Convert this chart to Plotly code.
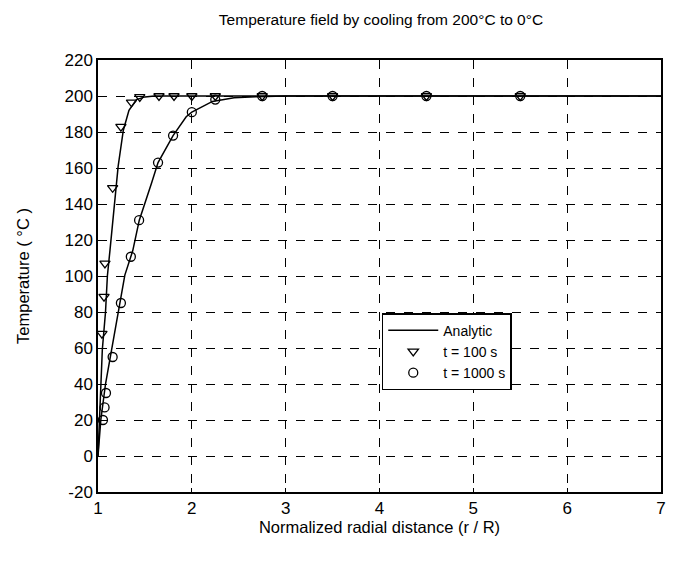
import plotly.graph_objects as go

# Analytic curves
analytic_100_r = [1.0, 1.01, 1.03, 1.046, 1.08, 1.10, 1.127, 1.18, 1.215, 1.27, 1.33, 1.41, 1.5, 1.6, 7.0]
analytic_100_T = [0, 15, 40, 59, 80, 100, 114, 140, 161, 181, 192, 198, 199.5, 200, 200]

analytic_1000_r = [1.0, 1.03, 1.08, 1.145, 1.215, 1.286, 1.37, 1.44, 1.57, 1.64, 1.80, 1.94, 2.0, 2.22, 2.45, 2.68, 3.0, 7.0]
analytic_1000_T = [0, 20, 40, 59, 80, 100.5, 114, 131, 151.5, 163, 178, 188.5, 191, 197, 199, 199.6, 200, 200]

# Numerical results, t = 100 s
num_100_r = [1.042, 1.064, 1.074, 1.156, 1.244, 1.357, 1.445, 1.65, 1.81, 2.0, 2.25, 2.75, 3.5, 4.5, 5.5]
num_100_T = [68, 88.5, 107, 149, 183, 196.5, 199.5, 200, 200, 200, 200, 200, 200, 200, 200]

# Numerical results, t = 1000 s
num_1000_r = [1.053, 1.07, 1.085, 1.156, 1.244, 1.35, 1.438, 1.64, 1.80, 2.0, 2.25, 2.75, 3.5, 4.5, 5.5]
num_1000_T = [20, 27, 35, 55, 85, 110.7, 131, 163, 178, 191, 198, 200, 200, 200, 200]

x_ticks = [1, 2, 3, 4, 5, 6, 7]
y_ticks = [-20, 0, 20, 40, 60, 80, 100, 120, 140, 160, 180, 200, 220]
y_tick_labels = ["-20", "0", "20", "40", "60", "80", "100", "120", "140", "160", "180", "200", "220"]

FONT = "Liberation Sans, Arial, sans-serif"

fig = go.Figure()
fig.add_trace(go.Scatter(x=analytic_100_r, y=analytic_100_T, mode="lines",
                         line=dict(color="black", width=1.5), name="Analytic"))
fig.add_trace(go.Scatter(x=analytic_1000_r, y=analytic_1000_T, mode="lines",
                         line=dict(color="black", width=1.5), name="Analytic", showlegend=False))
fig.add_trace(go.Scatter(x=num_100_r, y=num_100_T, mode="markers",
                         marker=dict(symbol="triangle-down-open", size=9, color="black",
                                     line=dict(width=1.3, color="black")),
                         name="t = 100 s"))
fig.add_trace(go.Scatter(x=num_1000_r, y=num_1000_T, mode="markers",
                         marker=dict(symbol="circle-open", size=9, color="black",
                                     line=dict(width=1.3, color="black")),
                         name="t = 1000 s"))

axis_common = dict(showline=True, linecolor="black", linewidth=1.5, mirror=True,
                   showgrid=True, gridcolor="black", gridwidth=1, griddash="dash",
                   ticks="inside", ticklen=4, tickcolor="black", zeroline=False,
                   ticklabeloverflow="allow",
                   tickfont=dict(family=FONT, size=17, color="black"))

# page body has an 8px margin; figure is sized so the whole page is 678x571
fig.update_layout(
    width=662, height=555,
    paper_bgcolor="white", plot_bgcolor="white",
    margin=dict(l=90, r=4, t=52, b=71),
    title=dict(text="Temperature field by cooling from 200°C to 0°C",
               x=(90 + 283) / 662, xanchor="center", y=1 - 12 / 555, yanchor="middle",
               font=dict(family=FONT, size=15.5, color="black")),
    xaxis=dict(range=[1, 7], tickvals=x_ticks, **axis_common,
               title=dict(text="Normalized radial distance (r / R)", standoff=4,
                          font=dict(family=FONT, size=16.5, color="black"))),
    yaxis=dict(range=[-20, 220], tickvals=y_ticks, ticktext=y_tick_labels, **axis_common,
               title=dict(text="Temperature ( °C )", standoff=31,
                          font=dict(family=FONT, size=16.5, color="black"))),
    legend=dict(x=0.504, y=0.414, xanchor="left", yanchor="top",
                bgcolor="white", bordercolor="black", borderwidth=1.5,
                font=dict(family=FONT, size=14, color="black"),
                tracegroupgap=0, itemwidth=50),
    showlegend=True,
)

fig.write_html("out.html")
